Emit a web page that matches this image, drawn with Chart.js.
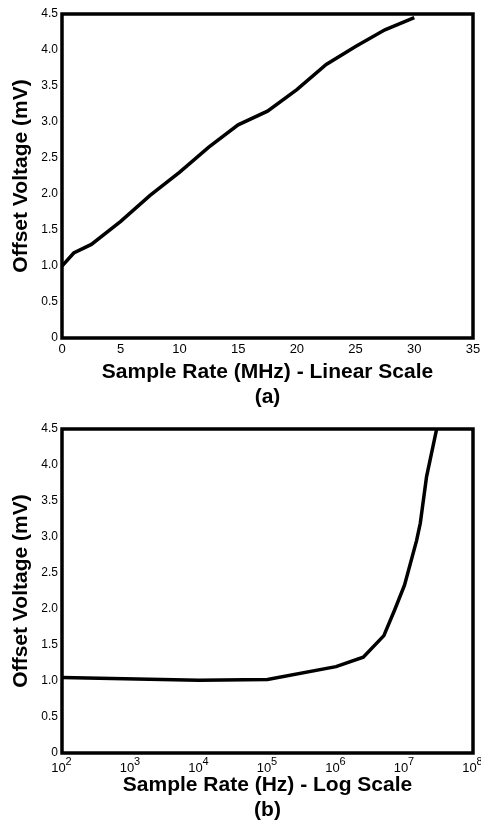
<!DOCTYPE html>
<html>
<head>
<meta charset="utf-8">
<title>Offset Voltage vs Sample Rate</title>
<script src="https://cdn.jsdelivr.net/npm/chart.js@4.4.1/dist/chart.umd.min.js"></script>
<style>
  html, body { margin: 0; padding: 0; background: #fff; }
  .panel { position: relative; width: 481px; }
  #wrapA { height: 415px; }
  #wrapB { height: 416px; }
</style>
</head>
<body>
<div class="panel" id="wrapA"><canvas id="chartA"></canvas></div>
<div class="panel" id="wrapB"><canvas id="chartB"></canvas></div>
<script>
// (a) linear scale, sample rate in MHz
const linearRateMHz = [0, 1, 2.5, 5, 7.5, 10, 12.5, 15, 17.5, 20, 22.5, 25, 27.5, 30];
const linearOffsetMV = [1.0, 1.18, 1.3, 1.62, 1.98, 2.3, 2.65, 2.96, 3.15, 3.45, 3.8, 4.05, 4.28, 4.45];

// (b) log scale, sample rate in Hz
const logRateHz = [1e2, 1e4, 1e5, 1e6, 2.5e6, 5e6, 7.2e6, 1e7, 1.5e7, 1.7e7, 2.1e7, 2.95e7];
const logOffsetMV = [1.05, 1.01, 1.02, 1.2, 1.33, 1.63, 1.99, 2.33, 2.95, 3.19, 3.84, 4.5];

// tick values + labels
const yTickValues = [0, 0.5, 1, 1.5, 2, 2.5, 3, 3.5, 4, 4.5];
const yTickLabels = ['0', '0.5', '1.0', '1.5', '2.0', '2.5', '3.0', '3.5', '4.0', '4.5'];
const linearTickValues = [0, 5, 10, 15, 20, 25, 30, 35];
const linearTickLabels = ['0', '5', '10', '15', '20', '25', '30', '35'];
const logTickValues = [1e2, 1e3, 1e4, 1e5, 1e6, 1e7, 1e8];
const logTickLabels = ['10', '10', '10', '10', '10', '10', '10'];
const logTickExponents = ['2', '3', '4', '5', '6', '7', '8'];

const FONT = '"Liberation Sans", Arial, Helvetica, sans-serif';

// thick black box round the plot area
const framePlugin = {
    id: 'frame',
    afterDatasetsDraw(chart) {
        const { ctx, chartArea: a } = chart;
        ctx.save();
        ctx.lineWidth = 3.5;
        ctx.strokeStyle = '#000';
        ctx.strokeRect(a.left, a.top, a.right - a.left, a.bottom - a.top);
        ctx.restore();
    }
};

// superscript exponents next to the "10" tick labels
const exponentPlugin = {
    id: 'exponents',
    afterDraw(chart, args, pluginOpts) {
        const exps = pluginOpts.exponents;
        if (!exps) return;
        const xScale = chart.scales.x;
        const ctx = chart.ctx;
        ctx.save();
        ctx.fillStyle = '#000';
        ctx.font = '11px ' + FONT;
        ctx.textAlign = 'left';
        ctx.textBaseline = 'top';
        xScale.ticks.forEach((t, i) => {
            const px = xScale.getPixelForValue(t.value);
            ctx.fillText(exps[i], px + 3.5, xScale.top + 3.5);
        });
        ctx.restore();
    }
};

function makeChart(canvasId, opts) {
    const points = opts.xs.map((x, i) => ({ x: x, y: opts.ys[i] }));

    return new Chart(document.getElementById(canvasId), {
        type: 'line',
        data: {
            datasets: [{
                data: points,
                borderColor: '#000',
                borderWidth: 3.5,
                pointRadius: 0,
                tension: 0,
                fill: false
            }]
        },
        options: {
            responsive: true,
            maintainAspectRatio: false,
            animation: false,
            devicePixelRatio: 1,
            layout: { padding: { top: 14, right: 8, left: 0, bottom: 0 } },
            plugins: {
                legend: { display: false },
                tooltip: { enabled: false },
                exponents: { exponents: opts.xExponents }
            },
            scales: {
                x: {
                    type: opts.xType,
                    min: opts.xMin,
                    max: opts.xMax,
                    grid: { display: false, drawTicks: false },
                    border: { display: false },
                    afterBuildTicks: (scale) => {
                        scale.ticks = opts.xTicks.map(v => ({ value: v }));
                    },
                    afterFit: (scale) => {
                        scale.height = opts.xAxisHeight;
                        scale.paddingLeft = 0;
                        scale.paddingRight = 0;
                    },
                    ticks: {
                        color: '#000',
                        padding: opts.xTickPad,
                        labelOffset: opts.xLabelOffset,
                        maxRotation: 0,
                        autoSkip: false,
                        font: { family: FONT, size: 13 },
                        callback: (v, i) => opts.xLabels[i]
                    },
                    title: {
                        display: true,
                        text: opts.xTitle,
                        color: '#000',
                        padding: { top: 0, bottom: opts.titlePad },
                        font: { family: FONT, size: 21, weight: 'bold', lineHeight: 1.2 }
                    }
                },
                y: {
                    min: 0,
                    max: 4.5,
                    grid: { display: false, drawTicks: false },
                    border: { display: false },
                    afterBuildTicks: (scale) => {
                        scale.ticks = yTickValues.map(v => ({ value: v }));
                    },
                    afterFit: (scale) => {
                        scale.width = 62;
                        scale.paddingTop = 0;
                        scale.paddingBottom = 0;
                    },
                    ticks: {
                        color: '#000',
                        padding: 4,
                        autoSkip: false,
                        font: { family: FONT, size: 12 },
                        callback: (v, i) => yTickLabels[i]
                    },
                    title: {
                        display: true,
                        text: 'Offset Voltage (mV)',
                        color: '#000',
                        padding: { top: 9, bottom: 0 },
                        font: { family: FONT, size: 21, weight: 'bold', lineHeight: 1.2 }
                    }
                }
            }
        },
        plugins: [framePlugin, exponentPlugin]
    });
}

makeChart('chartA', {
    xs: linearRateMHz,
    ys: linearOffsetMV,
    xType: 'linear',
    xMin: 0,
    xMax: 35,
    xTicks: linearTickValues,
    xLabels: linearTickLabels,
    xExponents: null,
    xLabelOffset: 0,
    xTitle: ['Sample Rate (MHz) - Linear Scale', '(a)'],
    xAxisHeight: 77,
    xTickPad: 4,
    titlePad: 5
});

makeChart('chartB', {
    xs: logRateHz,
    ys: logOffsetMV,
    xType: 'logarithmic',
    xMin: 1e2,
    xMax: 1e8,
    xTicks: logTickValues,
    xLabels: logTickLabels,
    xExponents: logTickExponents,
    xLabelOffset: -3.5,
    xTitle: ['Sample Rate (Hz) - Log Scale', '(b)'],
    xAxisHeight: 78,
    xTickPad: 8,
    titlePad: 8
});
</script>
</body>
</html>
